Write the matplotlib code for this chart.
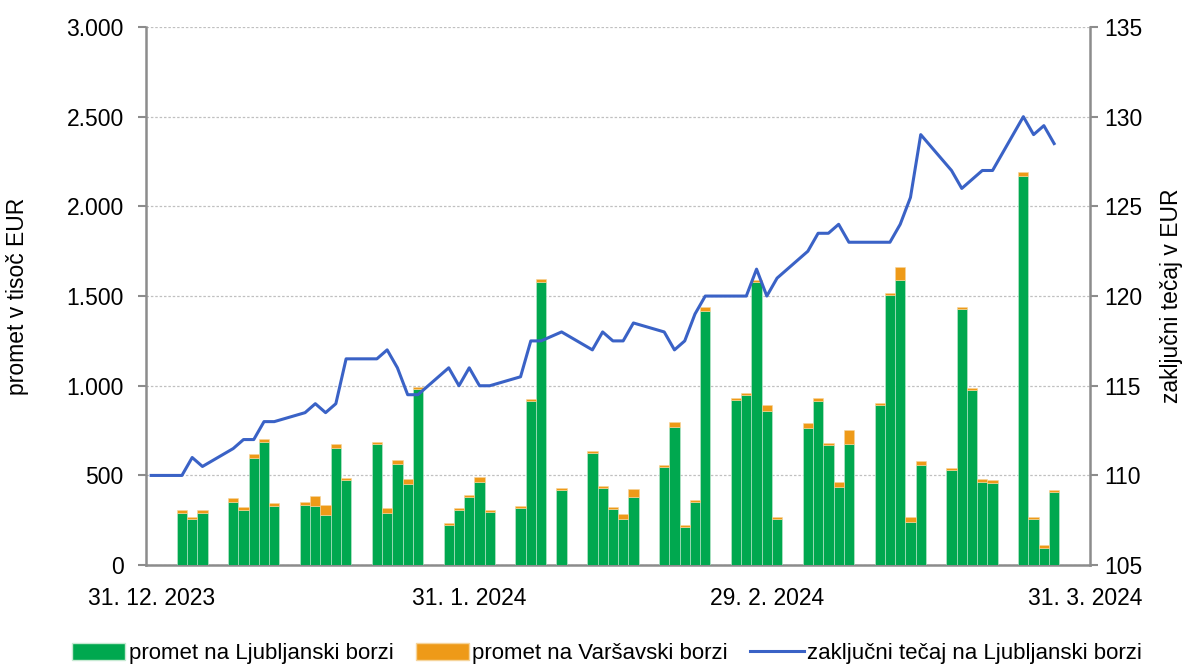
import matplotlib
matplotlib.use("Agg")
import matplotlib.pyplot as plt
import matplotlib.dates as mdates
from matplotlib.patches import Patch
from matplotlib.lines import Line2D
from matplotlib.ticker import FuncFormatter
import pandas as pd

# ---------------------------------------------------------------------------
# data
# ---------------------------------------------------------------------------
trading_days = [
    "2024-01-03", "2024-01-04", "2024-01-05",
    "2024-01-08", "2024-01-09", "2024-01-10", "2024-01-11", "2024-01-12",
    "2024-01-15", "2024-01-16", "2024-01-17", "2024-01-18", "2024-01-19",
    "2024-01-22", "2024-01-23", "2024-01-24", "2024-01-25", "2024-01-26",
    "2024-01-29", "2024-01-30", "2024-01-31", "2024-02-01", "2024-02-02",
    "2024-02-05", "2024-02-06", "2024-02-07", "2024-02-09",
    "2024-02-12", "2024-02-13", "2024-02-14", "2024-02-15", "2024-02-16",
    "2024-02-19", "2024-02-20", "2024-02-21", "2024-02-22", "2024-02-23",
    "2024-02-26", "2024-02-27", "2024-02-28", "2024-02-29", "2024-03-01",
    "2024-03-04", "2024-03-05", "2024-03-06", "2024-03-07", "2024-03-08",
    "2024-03-11", "2024-03-12", "2024-03-13", "2024-03-14", "2024-03-15",
    "2024-03-18", "2024-03-19", "2024-03-20", "2024-03-21", "2024-03-22",
    "2024-03-25", "2024-03-26", "2024-03-27", "2024-03-28",
]

# promet na Ljubljanski borzi (tisoč EUR)
promet_ljse = [
    290, 256, 290,
    353, 307, 598, 686, 331,
    334, 327, 281, 654, 475,
    673, 293, 562, 450, 982,
    222, 310, 378, 462, 297,
    320, 913, 1580, 417,
    623, 430, 313, 257, 378,
    545, 768, 211, 352, 1418,
    921, 947, 1577, 857, 257,
    764, 917, 670, 434, 673,
    891, 1505, 1591, 242, 559,
    530, 1429, 975, 461, 459,
    2170, 255, 98, 405,
]

# promet na Varšavski borzi (tisoč EUR)
promet_wse = [
    18, 12, 15,
    22, 18, 19, 18, 13,
    19, 61, 52, 19, 11,
    12, 26, 24, 30, 11,
    13, 9, 15, 28, 13,
    10, 13, 13, 13,
    12, 10, 13, 28, 45,
    15, 30, 13, 11, 19,
    13, 13, 14, 34, 13,
    26, 15, 13, 28, 83,
    11, 11, 71, 27, 22,
    14, 11, 13, 18, 15,
    24, 14, 15, 13,
]

# zaključni tečaj (EUR); first point is the 2023 year-end close
tecaj_dates = ["2023-12-31"] + trading_days
tecaj = [
    110.0,
    110.0, 111.0, 110.5,
    111.5, 112.0, 112.0, 113.0, 113.0,
    113.5, 114.0, 113.5, 114.0, 116.5,
    116.5, 117.0, 116.0, 114.5, 114.5,
    116.0, 115.0, 116.0, 115.0, 115.0,
    115.5, 117.5, 117.5, 118.0,
    117.0, 118.0, 117.5, 117.5, 118.5,
    118.0, 117.0, 117.5, 119.0, 120.0,
    120.0, 120.0, 121.5, 120.0, 121.0,
    122.5, 123.5, 123.5, 124.0, 123.0,
    123.0, 123.0, 124.0, 125.5, 129.0,
    127.0, 126.0, 126.5, 127.0, 127.0,
    130.0, 129.0, 129.5, 128.5,
]

tick_dates = ["2023-12-31", "2024-01-31", "2024-02-29", "2024-03-31"]
tick_labels = ["31. 12. 2023", "31. 1. 2024", "29. 2. 2024", "31. 3. 2024"]

left_ticks = [0, 500, 1000, 1500, 2000, 2500, 3000]
right_ticks = [105, 110, 115, 120, 125, 130, 135]

# ---------------------------------------------------------------------------
# style
# ---------------------------------------------------------------------------
GREEN = "#00a84f"
ORANGE = "#ee9a18"
BLUE = "#3a62c6"
GREY = "#8c8c8c"

plt.rcParams["font.family"] = ["Liberation Sans", "DejaVu Sans"]
plt.rcParams["font.size"] = 16.5

x_bar = mdates.date2num(pd.to_datetime(trading_days))
x_line = mdates.date2num(pd.to_datetime(tecaj_dates))
x_ticks = mdates.date2num(pd.to_datetime(tick_dates))

fig = plt.figure(figsize=(11.9, 6.68), dpi=100)
ax = fig.add_axes([0.1227, 0.154, 0.7933, 0.8056])
ax2 = ax.twinx()

# bars (stacked)
ax.bar(x_bar, promet_ljse, width=1.0, color=GREEN,
       edgecolor="#c6ead2", linewidth=0.4, zorder=3)
ax.bar(x_bar, promet_wse, width=1.0, bottom=promet_ljse, color=ORANGE,
       edgecolor="#f6d49a", linewidth=0.4, zorder=3)

# closing price line
ax2.plot(x_line, tecaj, color=BLUE, linewidth=2.2, zorder=4)

# axes ranges
ax.set_xlim(x_ticks[0] - 0.5, x_ticks[-1] + 0.5)
ax.set_ylim(0, 3000)
ax2.set_ylim(105, 135)

ax.set_yticks(left_ticks)
ax.yaxis.set_major_formatter(FuncFormatter(lambda v, p: f"{int(v):,}".replace(",", ".")))
ax2.set_yticks(right_ticks)

ax.set_xticks(x_ticks)
ax.set_xticklabels(tick_labels)

# grid
ax.grid(axis="y", color="#c0c0c0", linestyle=(0, (2, 1.5)), linewidth=0.9, zorder=0)
ax.set_axisbelow(True)

# spines / ticks
for a in (ax, ax2):
    a.spines["top"].set_visible(False)
    for s in ("left", "right", "bottom"):
        a.spines[s].set_color(GREY)
        a.spines[s].set_linewidth(1.8)
ax.spines["right"].set_visible(False)
ax2.spines["left"].set_visible(False)
ax2.spines["bottom"].set_visible(False)

ax.tick_params(axis="y", direction="out", length=6, width=1.5, color=GREY, pad=10)
ax.tick_params(axis="x", length=0, pad=16)
ax2.tick_params(axis="y", direction="out", length=6, width=1.5, color=GREY, pad=4)

ax.set_ylabel("promet v tisoč EUR", fontsize=16.5)
ax.yaxis.set_label_coords(-0.124, 0.5)
ax2.set_ylabel("zaključni tečaj v EUR", fontsize=16.5)
ax2.yaxis.set_label_coords(1.074, 0.5)

# legend
handles = [
    Patch(facecolor=GREEN, edgecolor="#c6ead2"),
    Patch(facecolor=ORANGE, edgecolor="#f6d49a"),
    Line2D([0], [0], color=BLUE, linewidth=2.2),
]
labels = ["promet na Ljubljanski borzi", "promet na Varšavski borzi",
          "zaključni tečaj na Ljubljanski borzi"]
fig.legend(handles, labels, loc="center", bbox_to_anchor=(0.51, 0.022), ncol=3,
           frameon=False, fontsize=16, handlelength=2.4, handleheight=0.8,
           handletextpad=0.15, columnspacing=1.0, borderaxespad=0)

fig.savefig("out.png", dpi=100)
